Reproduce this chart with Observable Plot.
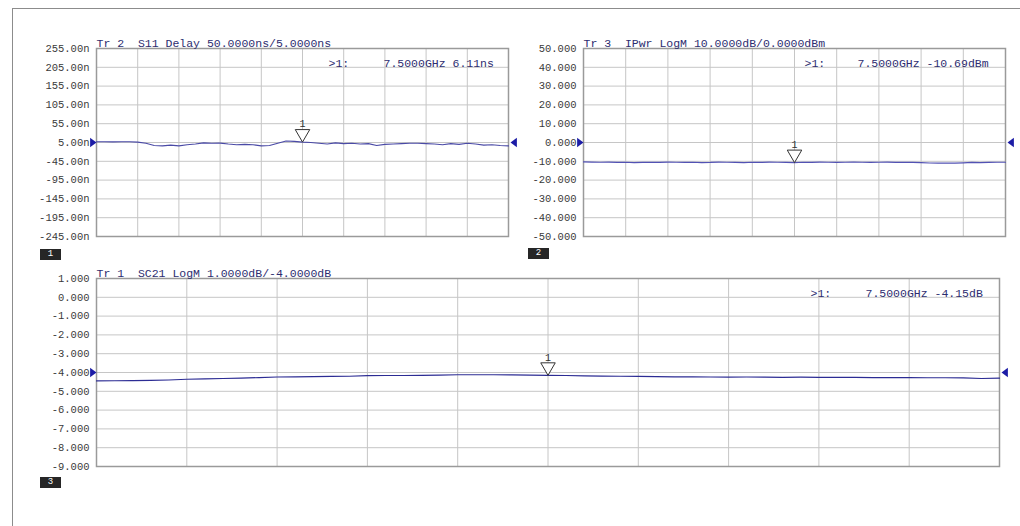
<!DOCTYPE html>
<html>
<head>
<meta charset="utf-8">
<script src="https://cdn.jsdelivr.net/npm/d3@7"></script>
<script src="https://cdn.jsdelivr.net/npm/@observablehq/plot@0.6"></script>
<style>
  body { margin: 0; background: #fff; }
  #wrap { position: relative; width: 1020px; height: 526px; overflow: hidden; background: #fff; }
  #wrap svg { position: absolute; left: 0; top: 0; }
  .outer { position: absolute; left: 12px; top: 8px; width: 1030px; height: 540px;
           border-left: 1.5px solid #8c8c8c; border-top: 1.5px solid #8c8c8c; }
  .chan { position: absolute; width: 21px; height: 11px; background: #262626; color: #fff;
          font: 9px "Liberation Mono", monospace; text-align: center; line-height: 11px; }
</style>
</head>
<body>
<div id="wrap">
  <div class="outer"></div>
  <div class="chan" style="left:40px;top:249px">1</div>
  <div class="chan" style="left:528px;top:248px">2</div>
  <div class="chan" style="left:40px;top:477px">3</div>
</div>
<script>
// ---- data ----
const freqsGHz = [5.0,5.1,5.2,5.3,5.4,5.5,5.6,5.7,5.8,5.9,6.0,6.1,6.2,6.3,6.4,6.5,6.6,6.7,6.8,6.9,
  7.0,7.1,7.2,7.3,7.4,7.5,7.6,7.7,7.8,7.9,8.0,8.1,8.2,8.3,8.4,8.5,8.6,8.7,8.8,8.9,
  9.0,9.1,9.2,9.3,9.4,9.5,9.6,9.7,9.8,9.9,10.0];
const gridFreqs = [5.0,5.5,6.0,6.5,7.0,7.5,8.0,8.5,9.0,9.5,10.0];
const markerFreq = 7.5;

// Tr 2  S11 Delay (ns)
const s11DelayNs = [7,7,6.5,7,7,6,3,-3,-4,-2,-4,-1,1,4,3,3.5,1,-1,0,-1,
  -4,-3,3,9,8,6.11,5,3,1,4,2,3,1,2,-3,0,1,2,3,3,
  2,1,-1,2,0,3,1,-2,-1,-3,-4];
const s11Ticks = [255,205,155,105,55,5,-45,-95,-145,-195,-245];
const s11Ref = 5;

// Tr 3  IPwr LogM (dBm)
const ipwrDbm = [-10.3,-10.4,-10.5,-10.4,-10.6,-10.5,-10.7,-10.6,-10.5,-10.6,
  -10.4,-10.5,-10.6,-10.5,-10.7,-10.6,-10.4,-10.5,-10.6,-10.7,
  -10.5,-10.6,-10.4,-10.5,-10.6,-10.69,-10.5,-10.6,-10.4,-10.5,
  -10.6,-10.5,-10.4,-10.5,-10.6,-10.5,-10.4,-10.6,-10.5,-10.6,
  -10.7,-10.9,-11.0,-10.9,-11.0,-10.8,-10.6,-10.7,-10.6,-10.5,-10.5];
const ipwrTicks = [50,40,30,20,10,0,-10,-20,-30,-40,-50];
const ipwrRef = 0;

// Tr 1  SC21 LogM (dB)
const sc21Db = [-4.45,-4.44,-4.43,-4.42,-4.40,-4.36,-4.34,-4.32,-4.30,-4.27,
  -4.24,-4.23,-4.22,-4.21,-4.20,-4.17,-4.16,-4.16,-4.15,-4.14,
  -4.12,-4.12,-4.12,-4.13,-4.14,-4.15,-4.16,-4.18,-4.19,-4.20,
  -4.21,-4.22,-4.23,-4.23,-4.24,-4.25,-4.24,-4.25,-4.26,-4.25,
  -4.26,-4.26,-4.26,-4.27,-4.27,-4.27,-4.28,-4.28,-4.29,-4.32,-4.30];
const sc21Ticks = [1,0,-1,-2,-3,-4,-5,-6,-7,-8,-9];
const sc21Ref = -4;

const titles = ["Tr 2  S11 Delay 50.0000ns/5.0000ns", "Tr 3  IPwr LogM 10.0000dB/0.0000dBm", "Tr 1  SC21 LogM 1.0000dB/-4.0000dB"];
const readouts = ["7.5000GHz 6.11ns", "7.5000GHz -10.69dBm", "7.5000GHz -4.15dB"];

// ---- symbols (tip at the anchor point) ----
const arrowRight = { draw(ctx, size) { const r = Math.sqrt(size / Math.PI); ctx.moveTo(0, 0); ctx.lineTo(-1.6 * r, -1.2 * r); ctx.lineTo(-1.6 * r, 1.2 * r); ctx.closePath(); } };
const arrowLeft  = { draw(ctx, size) { const r = Math.sqrt(size / Math.PI); ctx.moveTo(0, 0); ctx.lineTo(1.6 * r, -1.2 * r); ctx.lineTo(1.6 * r, 1.2 * r); ctx.closePath(); } };
const markerDown = { draw(ctx, size) { const r = Math.sqrt(size / Math.PI); ctx.moveTo(0, 0); ctx.lineTo(-1.45 * r, -2.5 * r); ctx.lineTo(1.45 * r, -2.5 * r); ctx.closePath(); } };

const W = 1020, H = 526;
const panels = [
  {values: s11DelayNs, ticks: s11Ticks, ref: s11Ref, fmt: d => d.toFixed(2) + "n", title: titles[0], readout: readouts[0],
   left: 96, right: 508, top: 48, bottom: 236, color: "#4a4aa6", mk1: -180, mk2: -125},
  {values: ipwrDbm, ticks: ipwrTicks, ref: ipwrRef, fmt: d => d.toFixed(3), title: titles[1], readout: readouts[1],
   left: 583, right: 1005, top: 48, bottom: 236, color: "#5252b4", mk1: -201, mk2: -148},
  {values: sc21Db, ticks: sc21Ticks, ref: sc21Ref, fmt: d => d.toFixed(3), title: titles[2], readout: readouts[2],
   left: 96, right: 999, top: 278, bottom: 466, color: "#2c2c94", mk1: -189, mk2: -134}
];

const wrap = document.getElementById("wrap");
for (const p of panels) {
  const data = freqsGHz.map((f, i) => ({f, v: p.values[i]}));
  const mi = freqsGHz.indexOf(markerFreq);
  const mk = [{f: markerFreq, v: p.values[mi]}];
  const fmin = d3.min(freqsGHz), fmax = d3.max(freqsGHz);
  const chart = Plot.plot({
    width: W, height: H,
    marginLeft: p.left, marginRight: W - p.right, marginTop: p.top, marginBottom: H - p.bottom,
    x: {domain: [fmin, fmax], axis: null, label: null},
    y: {domain: [d3.min(p.ticks), d3.max(p.ticks)], axis: null, label: null},
    style: {background: "none", fontFamily: "'Liberation Mono', monospace", fontSize: "10px", color: "#333", overflow: "visible"},
    marks: [
      Plot.gridX(gridFreqs, {stroke: "#c6c6c6", strokeOpacity: 1}),
      Plot.gridY(p.ticks, {stroke: "#c6c6c6", strokeOpacity: 1}),
      Plot.axisY(p.ticks, {tickSize: 0, tickPadding: 7, tickFormat: p.fmt, fill: "#3a3a3a", fontSize: 10.5, label: null}),
      Plot.frame({stroke: "#9a9a9a", strokeWidth: 1.5}),
      Plot.line(data, {x: "f", y: "v", stroke: p.color, strokeWidth: 1.2}),
      Plot.dot([p.ref], {x: () => fmin, y: d => d, symbol: arrowRight, r: 4, fill: "#1c1ca6", stroke: null}),
      Plot.dot([p.ref], {x: () => fmax, y: d => d, symbol: arrowLeft, r: 4, dx: 2, fill: "#1c1ca6", stroke: null}),
      Plot.dot(mk, {x: "f", y: "v", symbol: markerDown, r: 5, fill: "white", stroke: "#333", strokeWidth: 1}),
      Plot.text(mk, {x: "f", y: "v", text: () => "1", dy: -18, fill: "#333", fontSize: 10}),
      Plot.text([p.title], {text: d => d, frameAnchor: "top-left", textAnchor: "start", lineAnchor: "bottom", dy: -2, fill: "#2d2d70", fontSize: 11.5}),
      Plot.text([">1:"], {text: d => d, frameAnchor: "top-right", textAnchor: "start", dx: p.mk1, dy: 10, fill: "#2d2d70", fontSize: 11.5}),
      Plot.text([p.readout], {text: d => d, frameAnchor: "top-right", textAnchor: "start", dx: p.mk2, dy: 10, fill: "#2d2d70", fontSize: 11.5})
    ]
  });
  wrap.appendChild(chart);
}
</script>
</body>
</html>
